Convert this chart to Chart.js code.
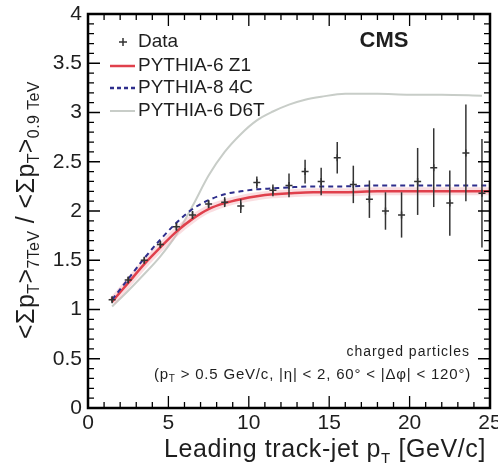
<!DOCTYPE html>
<html>
<head>
<meta charset="utf-8">
<script src="https://cdn.jsdelivr.net/npm/chart.js@4.4.0/dist/chart.umd.min.js"></script>
<style>
  html, body { margin: 0; padding: 0; background: #fff; }
</style>
</head>
<body>
<canvas id="ratioChart" width="498" height="468"></canvas>
<script>
// leading track-jet pT bin centres and measured 7 TeV / 0.9 TeV ratio
const ptBins = [1.5, 2.5, 3.5, 4.5, 5.5, 6.5, 7.5, 8.5, 9.5, 10.5, 11.5, 12.5,
                13.5, 14.5, 15.5, 16.5, 17.5, 18.5, 19.5, 20.5, 21.5, 22.5, 23.5, 24.5];
const ratioData = [1.10, 1.30, 1.50, 1.66, 1.84, 1.96, 2.07, 2.09, 2.05, 2.29, 2.21, 2.26,
                   2.40, 2.30, 2.54, 2.27, 2.12, 2.00, 1.96, 2.30, 2.44, 2.08, 2.59, 2.18];
const ratioErr = [0.03, 0.03, 0.03, 0.03, 0.04, 0.04, 0.04, 0.05, 0.07, 0.06, 0.06, 0.12,
                  0.12, 0.14, 0.16, 0.19, 0.19, 0.19, 0.23, 0.34, 0.40, 0.33, 0.49, 0.55];

// MC tunes
const z1Pt = [1.5, 2.5, 3.5, 4.5, 5.5, 6.5, 7.5, 8.5, 9.5, 10.5, 11.5, 12.5, 14, 16, 18, 20, 22, 25];
const z1Ratio = [1.08, 1.27, 1.46, 1.63, 1.79, 1.92, 2.02, 2.08, 2.12, 2.15, 2.17, 2.18, 2.19, 2.19, 2.20, 2.20, 2.20, 2.20];
const c4Pt = [1.5, 2.5, 3.5, 4.5, 5.5, 6.5, 7.5, 8.5, 9.5, 10.5, 11.5, 12.5, 14, 16, 18, 20, 22, 25];
const c4Ratio = [1.10, 1.31, 1.52, 1.71, 1.88, 2.02, 2.11, 2.17, 2.20, 2.22, 2.23, 2.24, 2.25, 2.25, 2.26, 2.26, 2.26, 2.26];
const d6tPt = [1.5, 2.5, 3.5, 4.5, 5.5, 6.5, 7.5, 8.5, 9.5, 10.5, 11.5, 12.5, 13.5, 14.5, 16, 18, 20, 22, 24.5];
const d6tRatio = [1.03, 1.19, 1.36, 1.54, 1.76, 2.05, 2.36, 2.60, 2.78, 2.92, 3.01, 3.08, 3.13, 3.16, 3.19, 3.19, 3.18, 3.18, 3.17];

const xTicks = [0, 5, 10, 15, 20, 25];
const xTickLabels = ['0', '5', '10', '15', '20', '25'];
const yTicks = [0, 0.5, 1, 1.5, 2, 2.5, 3, 3.5, 4];
const yTickLabels = ['0', '0.5', '1', '1.5', '2', '2.5', '3', '3.5', '4'];

const FONT = '"Liberation Sans", Arial, Helvetica, sans-serif';
const INK = '#1e1e1e';

function pts(xs, ys) {
  return xs.map((x, i) => ({ x: x, y: ys[i] }));
}

// draw a run of text pieces; sub pieces are smaller and shifted down
function drawPieces(ctx, pieces, x, y, align) {
  let total = 0;
  pieces.forEach(p => {
    ctx.font = p.size + 'px ' + FONT;
    p.w = ctx.measureText(p.text).width;
    total += p.w;
  });
  let cx = align === 'center' ? x - total / 2 : (align === 'right' ? x - total : x);
  pieces.forEach(p => {
    ctx.font = p.size + 'px ' + FONT;
    ctx.fillText(p.text, cx, y + (p.shift || 0));
    cx += p.w;
  });
}

// frame, inward ticks, error bars, legend and labels
const rootStyle = {
  id: 'rootStyle',
  afterDatasetsDraw(chart) {
    const ctx = chart.ctx;
    const xs = chart.scales.x, ys = chart.scales.y;
    ctx.save();
    ctx.strokeStyle = '#333';
    ctx.lineWidth = 1.5;
    ptBins.forEach((x, i) => {
      const px = xs.getPixelForValue(x);
      ctx.beginPath();
      ctx.moveTo(px, ys.getPixelForValue(ratioData[i] - ratioErr[i]));
      ctx.lineTo(px, ys.getPixelForValue(ratioData[i] + ratioErr[i]));
      ctx.stroke();
    });
    ctx.restore();
  },
  afterDraw(chart) {
    const ctx = chart.ctx;
    const a = chart.chartArea;
    const xs = chart.scales.x, ys = chart.scales.y;
    ctx.save();
    ctx.strokeStyle = '#000';
    ctx.lineWidth = 1.3;
    // x ticks, bottom and top
    for (let v = 0; v <= 25; v += 1) {
      const px = xs.getPixelForValue(v);
      const len = v % 5 === 0 ? 12 : 6;
      ctx.beginPath();
      ctx.moveTo(px, a.bottom); ctx.lineTo(px, a.bottom - len);
      ctx.moveTo(px, a.top); ctx.lineTo(px, a.top + len);
      ctx.stroke();
    }
    // y ticks, left and right
    for (let k = 0; k <= 40; k++) {
      const py = ys.getPixelForValue(k / 10);
      const len = k % 5 === 0 ? 12 : 6;
      ctx.beginPath();
      ctx.moveTo(a.left, py); ctx.lineTo(a.left + len, py);
      ctx.moveTo(a.right, py); ctx.lineTo(a.right - len, py);
      ctx.stroke();
    }
    ctx.lineWidth = 2.5;
    ctx.strokeRect(a.left, a.top, a.right - a.left, a.bottom - a.top);

    // legend
    ctx.fillStyle = INK;
    ctx.textBaseline = 'middle';
    ctx.font = '19px ' + FONT;
    const rows = [42, 66, 88, 111];
    ctx.strokeStyle = '#333';
    ctx.lineWidth = 1.5;
    ctx.beginPath();
    ctx.moveTo(119, rows[0]); ctx.lineTo(127, rows[0]);
    ctx.moveTo(123, rows[0] - 4); ctx.lineTo(123, rows[0] + 4);
    ctx.stroke();
    ctx.lineWidth = 2.5;
    ctx.strokeStyle = '#e0404c';
    ctx.beginPath(); ctx.moveTo(110, rows[1]); ctx.lineTo(135, rows[1]); ctx.stroke();
    ctx.strokeStyle = '#2e2e8c';
    ctx.setLineDash([4, 3]);
    ctx.beginPath(); ctx.moveTo(110, rows[2]); ctx.lineTo(135, rows[2]); ctx.stroke();
    ctx.setLineDash([]);
    ctx.strokeStyle = '#c8cdc8';
    ctx.lineWidth = 2;
    ctx.beginPath(); ctx.moveTo(110, rows[3]); ctx.lineTo(135, rows[3]); ctx.stroke();
    ctx.textAlign = 'left';
    ctx.fillText('Data', 138, rows[0]);
    ctx.fillText('PYTHIA-6 Z1', 138, rows[1]);
    ctx.fillText('PYTHIA-8 4C', 138, rows[2]);
    ctx.fillText('PYTHIA-6 D6T', 138, rows[3]);

    ctx.font = 'bold 22px ' + FONT;
    ctx.textAlign = 'center';
    ctx.fillText('CMS', 384, 41);

    // selection text
    ctx.letterSpacing = '1px';
    ctx.font = '14px ' + FONT;
    ctx.textAlign = 'right';
    ctx.fillText('charged particles', 470, 352);
    ctx.textAlign = 'left';
    ctx.letterSpacing = '0.8px';
    drawPieces(ctx, [
      { text: '(p', size: 15 },
      { text: 'T', size: 10, shift: 4 },
      { text: ' > 0.5 GeV/c, |\u03b7| < 2, 60\u00b0 < |\u0394\u03c6| < 120\u00b0)', size: 15 }
    ], 471, 375, 'right');

    // x axis title
    ctx.letterSpacing = '0.6px';
    ctx.textBaseline = 'alphabetic';
    drawPieces(ctx, [
      { text: 'Leading track-jet p', size: 25 },
      { text: 'T', size: 15, shift: 6 },
      { text: ' [GeV/c]', size: 25 }
    ], 325, 457, 'center');

    // y axis title, rotated
    ctx.letterSpacing = '0.4px';
    ctx.translate(34, 210);
    ctx.rotate(-Math.PI / 2);
    drawPieces(ctx, [
      { text: '<\u03a3p', size: 25 },
      { text: 'T', size: 16, shift: 5 },
      { text: '>', size: 25 },
      { text: '7TeV', size: 16, shift: 5 },
      { text: ' / <\u03a3p', size: 25 },
      { text: 'T', size: 16, shift: 5 },
      { text: '>', size: 25 },
      { text: '0.9 TeV', size: 16, shift: 5 }
    ], 0, 0, 'center');
    ctx.letterSpacing = '0px';
    ctx.restore();
  }
};

const ctx = document.getElementById('ratioChart').getContext('2d');

const ratioChart = new Chart(ctx, {
  type: 'scatter',
  data: {
    datasets: [
      {
        label: 'Data',
        data: pts(ptBins, ratioData),
        pointStyle: 'cross',
        pointRadius: 3.5,
        borderColor: '#333',
        borderWidth: 1.5,
        showLine: false
      },
      {
        label: 'PYTHIA-8 4C',
        data: pts(c4Pt, c4Ratio),
        showLine: true,
        borderColor: '#2e2e8c',
        borderWidth: 2,
        borderDash: [5, 4],
        pointRadius: 0,
        cubicInterpolationMode: 'monotone'
      },
      {
        label: 'PYTHIA-6 Z1',
        data: pts(z1Pt, z1Ratio),
        showLine: true,
        borderColor: '#e0404c',
        borderWidth: 2.5,
        pointRadius: 0,
        cubicInterpolationMode: 'monotone'
      },
      {
        label: 'Z1 halo',
        data: pts(z1Pt, z1Ratio),
        showLine: true,
        borderColor: 'rgba(240, 160, 170, 0.35)',
        borderWidth: 8,
        pointRadius: 0,
        cubicInterpolationMode: 'monotone'
      },
      {
        label: 'PYTHIA-6 D6T',
        data: pts(d6tPt, d6tRatio),
        showLine: true,
        borderColor: '#c8cdc8',
        borderWidth: 2,
        pointRadius: 0,
        cubicInterpolationMode: 'monotone'
      }
    ]
  },
  options: {
    responsive: false,
    animation: false,
    layout: { padding: { left: 8, right: 8, top: 14, bottom: 0 } },
    plugins: {
      legend: { display: false },
      tooltip: { enabled: false }
    },
    scales: {
      x: {
        type: 'linear',
        min: 0,
        max: 25,
        grid: { display: false, drawTicks: false },
        border: { display: false },
        afterBuildTicks: scale => { scale.ticks = xTicks.map(v => ({ value: v })); },
        afterFit: scale => { scale.height = 60; scale.paddingLeft = 0; scale.paddingRight = 0; },
        ticks: {
          autoSkip: false,
          maxRotation: 0,
          padding: 3,
          color: INK,
          font: { family: FONT, size: 21 },
          callback: (v) => xTickLabels[xTicks.indexOf(v)]
        }
      },
      y: {
        min: 0,
        max: 4,
        grid: { display: false, drawTicks: false },
        border: { display: false },
        afterBuildTicks: scale => { scale.ticks = yTicks.map(v => ({ value: v })); },
        afterFit: scale => { scale.width = 80; scale.paddingTop = 0; scale.paddingBottom = 0; },
        ticks: {
          autoSkip: false,
          padding: 6,
          color: INK,
          font: { family: FONT, size: 21 },
          callback: (v) => yTickLabels[yTicks.indexOf(v)]
        }
      }
    }
  },
  plugins: [rootStyle]
});
</script>
</body>
</html>
